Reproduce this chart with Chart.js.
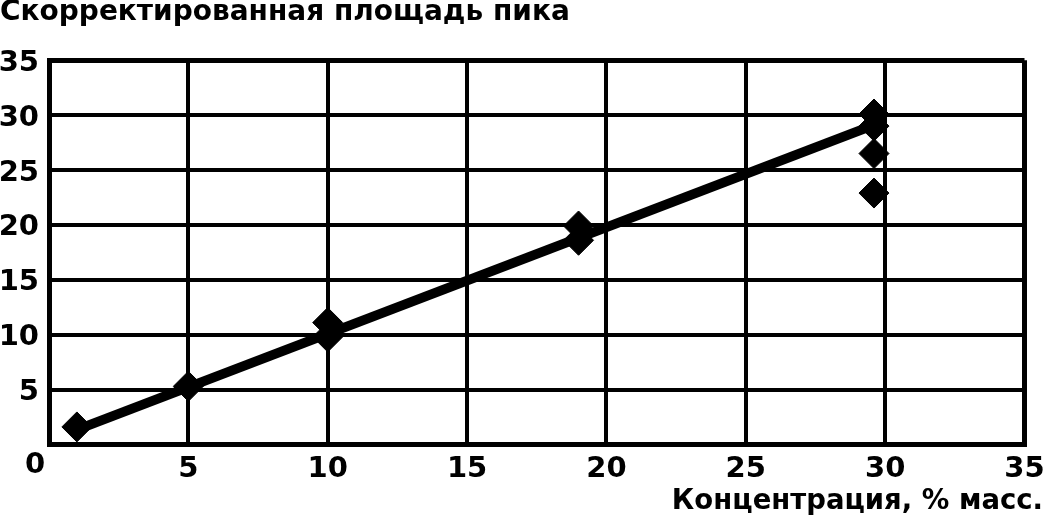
<!DOCTYPE html>
<html>
<head>
<meta charset="utf-8">
<script src="https://cdn.jsdelivr.net/npm/chart.js@4.4.1/dist/chart.umd.min.js"></script>
<style>
  html, body { margin: 0; padding: 0; background: #fff; }
  #wrap { width: 1043px; height: 525px; position: relative; }
</style>
</head>
<body>
<div id="wrap"><canvas id="chart"></canvas></div>
<script>
// measured points (concentration, % mass -> corrected peak area)
const concentration = [1, 5, 10, 10, 19, 19, 29.6, 29.6, 29.6, 29.6];
const peakArea = [1.6, 5.3, 11.1, 9.8, 19.9, 18.6, 30.1, 29.0, 26.5, 22.9];
// calibration line ends
const fitX = [1, 29.6];
const fitY = [1.34, 29.1];
const axisMax = 35;
const axisStep = 5;

const FONT = "'DejaVu Sans', 'Liberation Sans', Arial, sans-serif";

// the shared "0" sits in the lower-left corner, below the axes
const originLabel = {
  id: 'originLabel',
  afterDraw(chart) {
    const { ctx, scales } = chart;
    const x = scales.x.getPixelForValue(0);
    const y = scales.y.getPixelForValue(0);
    ctx.save();
    ctx.font = 'bold 29px ' + FONT;
    ctx.fillStyle = '#000';
    ctx.textAlign = 'center';
    ctx.textBaseline = 'middle';
    ctx.fillText('0', x - 14, y + 21);
    ctx.restore();
  }
};

const edgeWidth = (c) => (c.tick && c.tick.value === axisMax ? 5 : 4);

new Chart(document.getElementById('chart'), {
  type: 'scatter',
  data: {
    datasets: [
      {
        label: 'points',
        data: concentration.map((x, i) => ({ x: x, y: peakArea[i] })),
        pointStyle: 'rectRot',
        pointRadius: 15,
        backgroundColor: '#000',
        borderColor: '#000',
        borderWidth: 1,
        showLine: false
      },
      {
        label: 'fit',
        data: fitX.map((x, i) => ({ x: x, y: fitY[i] })),
        showLine: true,
        borderColor: '#000',
        borderWidth: 9.5,
        pointRadius: 0,
        borderCapStyle: 'butt'
      }
    ]
  },
  options: {
    responsive: true,
    maintainAspectRatio: false,
    animation: false,
    layout: { padding: 0 },
    plugins: {
      legend: { display: false },
      tooltip: { enabled: false },
      title: {
        display: true,
        text: 'Скорректированная площадь пика',
        align: 'start',
        color: '#000',
        font: { family: FONT, size: 28, weight: 'bold', lineHeight: 0.9 },
        padding: { top: 0, bottom: 35 }
      },
      subtitle: {
        display: true,
        position: 'bottom',
        text: 'Концентрация, % масс.',
        align: 'end',
        color: '#000',
        font: { family: FONT, size: 27.5, weight: 'bold', lineHeight: 1.0 },
        padding: { top: 0, bottom: 9 }
      }
    },
    scales: {
      x: {
        type: 'linear',
        min: 0,
        max: axisMax,
        afterFit: (scale) => {
          scale.height = 44;
          scale.paddingRight = 18.5;
        },
        grid: { color: '#000', lineWidth: edgeWidth, drawTicks: false },
        border: { display: true, color: '#000', width: 5 },
        ticks: {
          stepSize: axisStep,
          color: '#000',
          padding: 8,
          maxRotation: 0,
          font: { family: FONT, size: 29, weight: 'bold' },
          callback: (v) => (v === 0 ? '' : v)
        }
      },
      y: {
        type: 'linear',
        min: 0,
        max: axisMax,
        afterFit: (scale) => {
          scale.width = 49;
        },
        grid: { color: '#000', lineWidth: edgeWidth, drawTicks: false },
        border: { display: true, color: '#000', width: 5 },
        ticks: {
          stepSize: axisStep,
          color: '#000',
          padding: 10,
          labelOffset: 3,
          font: { family: FONT, size: 29, weight: 'bold' },
          callback: (v) => (v === 0 ? '' : v)
        }
      }
    }
  },
  plugins: [originLabel]
});
</script>
</body>
</html>
